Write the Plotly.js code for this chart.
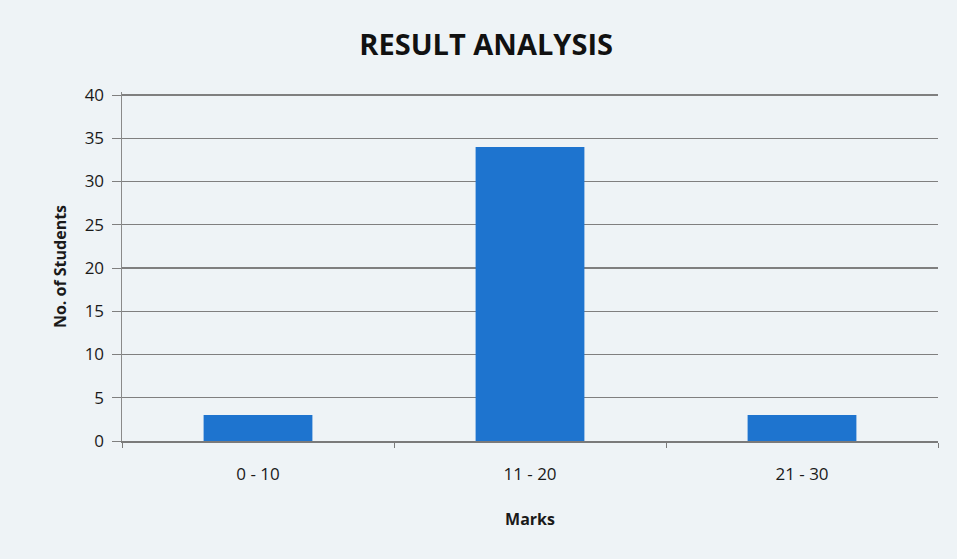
<!DOCTYPE html>
<html>
<head>
<meta charset="utf-8">
<script src="https://cdn.plot.ly/plotly-3.0.1.min.js"></script>
<style>html,body{margin:0;padding:0;background:#eef3f6;}#chart{width:957px;height:559px;}</style>
</head>
<body>
<div id="chart"></div>
<script>
const categories = ["0 - 10", "11 - 20", "21 - 30"];
const students = [3, 34, 3];
const yTicks = [0, 5, 10, 15, 20, 25, 30, 35, 40];

const trace = {
  type: "bar",
  x: categories,
  y: students,
  marker: {color: "#1e74cf"},
  hoverinfo: "x+y"
};

const FONT = "'Open Sans', Lato, sans-serif";
const layout = {
  width: 957, height: 559,
  paper_bgcolor: "#eef3f6",
  plot_bgcolor: "#eef3f6",
  margin: {l: 122, r: 19, t: 92, b: 118},
  bargap: 0.6,
  showlegend: false,
  font: {family: FONT, color: "#1a1a1a"},
  title: {text: "<b>RESULT ANALYSIS</b>", x: 0.508, xanchor: "center", y: 0.92, yanchor: "middle",
          font: {size: 29, family: FONT, color: "#111"}},
  xaxis: {
    type: "category",
    showline: true, linecolor: "#7a7a7a", linewidth: 1.5,
    ticks: "outside", tickson: "boundaries", ticklen: 5, tickcolor: "#7a7a7a",
    ticklabelstandoff: 17,
    tickfont: {size: 17, color: "#1a1a1a"},
    title: {text: "<b>Marks</b>", font: {size: 16, color: "#1a1a1a"}, standoff: 30}
  },
  yaxis: {
    range: [0, 40.35], tickvals: yTicks,
    showline: true, linecolor: "#8a8a8a", linewidth: 1.5,
    showgrid: true, gridcolor: "#7f7f7f", gridwidth: 1.2,
    ticks: "outside", ticklen: 9, tickcolor: "#7f7f7f",
    ticklabelstandoff: 4,
    tickfont: {size: 17, color: "#1a1a1a"},
    zeroline: false,
    title: {text: "<b>No. of Students</b>", font: {size: 16, color: "#1a1a1a"}, standoff: 14}
  }
};

Plotly.newPlot("chart", [trace], layout, {displayModeBar: false, staticPlot: true});
</script>
</body>
</html>
